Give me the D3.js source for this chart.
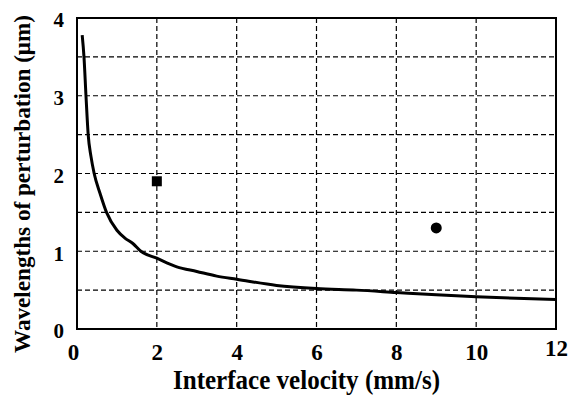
<!DOCTYPE html>
<html>
<head>
<meta charset="utf-8">
<script src="https://cdn.jsdelivr.net/npm/d3@7"></script>
<style>
  html, body { margin: 0; padding: 0; background: #fff; }
</style>
</head>
<body>
<svg id="chart" width="571" height="399"></svg>
<script>
// Curve: wavelength (um) vs interface velocity (mm/s)
const curveV = [0.13, 0.175, 0.225, 0.28, 0.35, 0.43, 0.58, 0.74, 1.0, 1.2, 1.4, 1.6, 2.0, 2.5, 3.0, 3.5, 4.0, 5.0, 6.0, 7.0, 8.0, 9.0, 10.0, 11.0, 12.0];
const curveL = [3.78, 3.5, 3.0, 2.5, 2.22, 2.0, 1.74, 1.5, 1.27, 1.17, 1.1, 1.0, 0.91, 0.8, 0.74, 0.68, 0.64, 0.56, 0.52, 0.5, 0.47, 0.44, 0.415, 0.395, 0.38];

// Measured points
const squarePt = { v: 2, l: 1.9 };
const circlePt = { v: 9, l: 1.3 };

const xTicks = [0, 2, 4, 6, 8, 10, 12];
const yTicks = [0, 1, 2, 3, 4];
const xGrid = [2, 4, 6, 8, 10];
const yGrid = [0.5, 1, 1.5, 2, 2.5, 3, 3.5];

const xTitle = "Interface velocity (mm/s)";
const yTitle = "Wavelengths of perturbation (\u03bcm)";

const FONT = '"Liberation Serif", "Times New Roman", Times, serif';

const margin = { left: 77, top: 18, right: 15, bottom: 70 };
const W = 571, H = 399;
const pw = W - margin.left - margin.right;
const ph = H - margin.top - margin.bottom;

const svg = d3.select('#chart');
const g = svg.append('g').attr('transform', `translate(${margin.left},${margin.top})`);

const x = d3.scaleLinear().domain([0, 12]).range([0, pw]);
const y = d3.scaleLinear().domain([0, 4]).range([ph, 0]);

// grid
g.selectAll('.vgrid').data(xGrid).enter().append('line')
  .attr('x1', d => x(d)).attr('x2', d => x(d))
  .attr('y1', 0).attr('y2', ph)
  .attr('stroke', '#000').attr('stroke-width', 1.2).attr('stroke-dasharray', '5,3');
g.selectAll('.hgrid').data(yGrid).enter().append('line')
  .attr('x1', 0).attr('x2', pw)
  .attr('y1', d => y(d)).attr('y2', d => y(d))
  .attr('stroke', '#000').attr('stroke-width', 1.2).attr('stroke-dasharray', '5,3');

// frame
g.append('rect').attr('width', pw).attr('height', ph)
  .attr('fill', 'none').attr('stroke', '#000').attr('stroke-width', 2);

// axes (labels only)
const xAxis = g.append('g').attr('transform', `translate(0,${ph})`)
  .call(d3.axisBottom(x).tickValues(xTicks).tickSize(0).tickPadding(0).tickFormat(d3.format('d')))
  .attr('font-family', FONT).attr('font-weight', 'bold');
xAxis.select('.domain').remove();
xAxis.selectAll('text')
  .attr('font-size', 23).attr('fill', '#000').attr('y', 31).attr('dy', null)
  .attr('dx', d => d === 0 ? -4 : 0)
  .attr('transform', d => d === 12 ? 'translate(0,-4)' : null);

const yAxis = g.append('g')
  .call(d3.axisLeft(y).tickValues(yTicks).tickSize(0).tickPadding(13).tickFormat(d3.format('d')))
  .attr('font-family', FONT).attr('font-weight', 'bold');
yAxis.select('.domain').remove();
yAxis.selectAll('text').attr('font-size', 21).attr('fill', '#000').attr('dy', '0.42em');

// curve
const line = d3.line()
  .x((d, i) => x(curveV[i]))
  .y(d => y(d))
  .curve(d3.curveMonotoneX);
g.append('path').datum(curveL)
  .attr('d', line)
  .attr('fill', 'none').attr('stroke', '#000').attr('stroke-width', 3);

// markers
g.append('rect')
  .attr('x', x(squarePt.v) - 5).attr('y', y(squarePt.l) - 5)
  .attr('width', 10).attr('height', 10).attr('fill', '#000');
g.append('circle')
  .attr('cx', x(circlePt.v)).attr('cy', y(circlePt.l)).attr('r', 5.5).attr('fill', '#000');

// titles
svg.append('text')
  .attr('x', 173).attr('y', 389)
  .attr('font-family', FONT).attr('font-weight', 'bold').attr('font-size', 27)
  .attr('textLength', 267).attr('lengthAdjust', 'spacingAndGlyphs')
  .text(xTitle);

svg.append('text')
  .attr('transform', 'translate(29.5,353) rotate(-90)')
  .attr('font-family', FONT).attr('font-weight', 'bold').attr('font-size', 24)
  .attr('textLength', 338).attr('lengthAdjust', 'spacingAndGlyphs')
  .text(yTitle);
</script>
</body>
</html>
